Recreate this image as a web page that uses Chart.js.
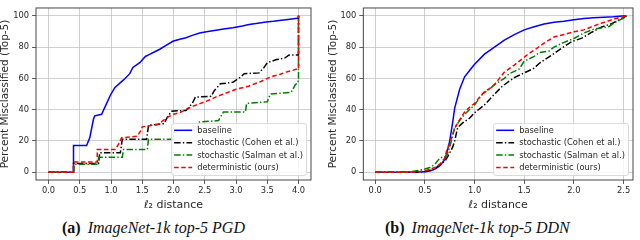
<!DOCTYPE html>
<html><head><meta charset="utf-8">
<script src="https://cdn.jsdelivr.net/npm/chart.js@4/dist/chart.umd.min.js"></script>
<style>
html,body{margin:0;padding:0;background:#fff;width:640px;height:240px;overflow:hidden;}
canvas{position:absolute;top:0;}
.cap{position:absolute;top:218px;font-family:"Liberation Serif","DejaVu Serif",serif;font-size:16px;line-height:20px;color:#111;white-space:nowrap;}
.cap b{font-weight:bold;font-style:normal;margin-right:7px;}
.cap i{font-style:italic;}
</style></head><body>
<canvas id="c1" width="320" height="215" style="left:0"></canvas>
<canvas id="c2" width="320" height="215" style="left:320px"></canvas>
<div class="cap" style="left:62px"><b>(a)</b><i>ImageNet-1k top-5 PGD</i></div>
<div class="cap" style="left:385px"><b>(b)</b><i>ImageNet-1k top-5 DDN</i></div>
<script>
// ---- labels ----
const seriesLabels = ["baseline", "stochastic (Cohen et al.)", "stochastic (Salman et al.)", "deterministic (ours)"];
const yTicks = [0, 20, 40, 60, 80, 100];
const xTicksPGD = [0, 0.5, 1.0, 1.5, 2.0, 2.5, 3.0, 3.5, 4.0];
const xTicksDDN = [0, 0.5, 1.0, 1.5, 2.0, 2.5];
const yTitle = "Percent Misclassified (Top-5)";
const xTitle = "\u2113\u2082 distance";

// ---- (a) PGD ----
const pgdBaselineX = [0, 0.4, 0.4, 0.61, 0.66, 0.72, 0.74, 0.85, 0.93, 1.0, 1.06, 1.2, 1.3, 1.35, 1.46, 1.55, 1.6, 1.7, 1.78, 1.9, 1.99, 2.1, 2.2, 2.3, 2.42, 2.55, 2.68, 2.8, 2.95, 3.1, 3.21, 3.35, 3.48, 3.6, 3.69, 3.8, 3.98, 4.0, 4.0];
const pgdBaselineY = [0, 0, 17, 17, 22, 34, 36, 37, 44, 50, 54, 59, 63, 67, 70, 74, 75, 77, 78.6, 81.5, 83.7, 85, 86, 87.5, 89, 90, 90.8, 91.5, 92.4, 93.5, 94.5, 95.3, 96, 96.5, 97, 97.5, 98.4, 98.5, 100];
const pgdCohenX = [0, 0.4, 0.4, 0.8, 0.82, 1.15, 1.18, 1.57, 1.6, 1.85, 1.9, 1.97, 2.2, 2.3, 2.35, 2.6, 2.65, 2.75, 2.95, 3.08, 3.13, 3.37, 3.45, 3.5, 3.65, 3.78, 3.85, 3.99, 4.0, 4.0];
const pgdCohenY = [0, 0, 5.5, 5.5, 12.5, 12.5, 21, 21, 30, 31, 35, 39, 39.5, 44, 48, 48.5, 52, 56.5, 57.5, 61, 63, 63.5, 67, 70, 72, 73, 75, 75, 75, 100];
const pgdSalmanX = [0, 0.4, 0.42, 0.8, 0.8, 1.18, 1.2, 1.58, 1.6, 1.99, 2.02, 2.38, 2.4, 2.72, 2.8, 3.15, 3.17, 3.5, 3.55, 3.88, 3.95, 3.99, 4.0, 4.0];
const pgdSalmanY = [0, 0, 5, 5, 9.5, 9.5, 14.5, 14.5, 21, 21, 26.5, 27, 32, 33, 38.5, 38.5, 44, 45, 50, 51, 56, 57, 60, 100];
const pgdOursX = [0, 0.4, 0.4, 0.78, 0.78, 1.07, 1.12, 1.17, 1.42, 1.47, 1.5, 1.75, 1.8, 1.9, 2.0, 2.1, 2.2, 2.3, 2.4, 2.5, 2.6, 2.7, 2.8, 2.9, 3.0, 3.1, 3.2, 3.3, 3.4, 3.5, 3.6, 3.7, 3.8, 3.9, 3.98, 4.0, 4.0];
const pgdOursY = [0, 0, 6.5, 6.5, 14.5, 14.5, 18, 22, 23, 26, 29, 30.5, 32, 35, 37, 38, 40, 42, 43.5, 45, 46.5, 48.5, 50, 51.5, 53, 54, 55, 56.5, 58, 60, 61.5, 62.5, 64, 65, 66, 66, 100];

// ---- (b) DDN ----
const ddnBaselineX = [0, 0.3, 0.5, 0.55, 0.6, 0.65, 0.7, 0.72, 0.75, 0.78, 0.8, 0.85, 0.9, 0.95, 1.0, 1.1, 1.2, 1.3, 1.4, 1.5, 1.6, 1.7, 1.8, 1.9, 2.0, 2.1, 2.2, 2.3, 2.4, 2.52];
const ddnBaselineY = [0, 0, 0.2, 0.7, 2, 4, 8, 12, 20, 32, 41, 53, 61, 65, 69, 75.5, 80, 84.5, 88, 91, 93, 94.7, 95.8, 96.5, 97.4, 98.2, 98.7, 99.1, 99.4, 100];
const ddnCohenX = [0, 0.45, 0.5, 0.6, 0.65, 0.7, 0.73, 0.78, 0.8, 0.83, 0.88, 0.95, 1.0, 1.1, 1.18, 1.28, 1.4, 1.5, 1.6, 1.65, 1.78, 1.88, 1.98, 2.08, 2.18, 2.28, 2.38, 2.47, 2.53];
const ddnCohenY = [0, 0, 0.5, 2, 5, 7, 10, 16, 20, 28.5, 31.5, 34.5, 38, 43, 48.5, 55, 60.5, 63.5, 66.5, 69.5, 75, 79.5, 83.5, 85.7, 89.5, 92.8, 95, 97.8, 100];
const ddnSalmanX = [0, 0.3, 0.4, 0.5, 0.55, 0.6, 0.65, 0.7, 0.72, 0.75, 0.8, 0.85, 0.9, 1.0, 1.08, 1.15, 1.2, 1.3, 1.35, 1.45, 1.5, 1.6, 1.65, 1.75, 1.8, 1.9, 2.0, 2.1, 2.2, 2.3, 2.35, 2.42, 2.5, 2.53];
const ddnSalmanY = [0, 0, 0.7, 2, 3, 5, 9, 10, 10.5, 16, 28.5, 33, 37, 43, 50, 53, 56, 60, 63, 66, 71, 74, 76.5, 77.5, 80, 83, 85.5, 89, 91.5, 92.5, 93, 96, 98.5, 100];
const ddnOursX = [0, 0.4, 0.5, 0.6, 0.65, 0.7, 0.72, 0.75, 0.78, 0.8, 0.83, 0.9, 0.95, 1.0, 1.05, 1.1, 1.15, 1.2, 1.25, 1.3, 1.4, 1.5, 1.55, 1.6, 1.7, 1.8, 1.9, 2.0, 2.1, 2.2, 2.3, 2.4, 2.48, 2.53];
const ddnOursY = [0, 0, 0.8, 3, 5, 9, 14, 18, 24.5, 28, 31.6, 38.5, 41.5, 44, 48, 51.5, 53.5, 56, 60, 64, 68.5, 73.5, 76, 78, 82.5, 86.5, 88, 89.8, 91, 93.5, 95.8, 97.8, 99.4, 100];

const pts = (xs, ys) => xs.map((x, i) => ({x: x, y: ys[i]}));

const styles = [
  {borderColor: '#0000ff', borderDash: [], order: 3},
  {borderColor: '#000000', borderDash: [6.5, 2.2, 1.4, 2.2], order: 2},
  {borderColor: '#008000', borderDash: [6.5, 2.2, 1.4, 2.2], order: 1},
  {borderColor: '#ff0000', borderDash: [4.5, 2.6], order: 0}
];

function makeDatasets(seriesList) {
  return seriesList.map((s, i) => ({
    label: seriesLabels[i],
    data: pts(s[0], s[1]),
    borderColor: styles[i].borderColor,
    borderDash: styles[i].borderDash,
    order: styles[i].order,
    borderWidth: 1.5,
    pointRadius: 0,
    fill: false,
    tension: 0
  }));
}

const textColor = '#2a2a2a';

const framePlugin = {
  id: 'frame',
  afterDatasetsDraw(chart) {
    const a = chart.chartArea, ctx = chart.ctx;
    ctx.save();
    ctx.strokeStyle = '#333';
    ctx.lineWidth = 0.9;
    ctx.strokeRect(a.left, a.top, a.right - a.left, a.bottom - a.top);
    ctx.restore();
  }
};

const boxLegend = {
  id: 'boxLegend',
  afterDraw(chart) {
    const ctx = chart.ctx, a = chart.chartArea;
    ctx.save();
    ctx.font = '8.3px "DejaVu Sans"';
    const ds = chart.data.datasets;
    let maxW = 0;
    ds.forEach(d => { maxW = Math.max(maxW, ctx.measureText(d.label).width); });
    const rowH = 12.4, textOff = 25.5;
    const w = textOff + maxW + 3.5, h = rowH * ds.length + 2.5;
    const x = a.right - 4.5 - w, y = a.bottom - 4.5 - h;
    ctx.beginPath();
    ctx.roundRect(x, y, w, h, 2.5);
    ctx.fillStyle = 'rgba(255,255,255,0.82)';
    ctx.fill();
    ctx.strokeStyle = '#d0d0d0';
    ctx.lineWidth = 0.8;
    ctx.stroke();
    ds.forEach((d, i) => {
      const cy = y + 6.9 + i * rowH;
      ctx.beginPath();
      ctx.setLineDash(d.borderDash || []);
      ctx.strokeStyle = d.borderColor;
      ctx.lineWidth = 1.5;
      ctx.moveTo(x + 2.5, cy);
      ctx.lineTo(x + 20.5, cy);
      ctx.stroke();
      ctx.setLineDash([]);
      ctx.fillStyle = textColor;
      ctx.textBaseline = 'middle';
      ctx.textAlign = 'left';
      ctx.fillText(d.label, x + textOff, cy + 0.5);
    });
    ctx.restore();
  }
};

function makeChart(id, datasets, xTicks, xmin, xmax, yAxisW, rightPad, yTitlePad) {
  return new Chart(document.getElementById(id), {
    type: 'line',
    data: {datasets: datasets},
    plugins: [framePlugin, boxLegend],
    options: {
      responsive: false,
      animation: false,
      devicePixelRatio: 1,
      layout: {padding: {left: 0, right: rightPad, top: 0.5, bottom: 0}},
      plugins: {legend: {display: false}, tooltip: {enabled: false}},
      scales: {
        x: {
          type: 'linear', min: xmin, max: xmax,
          afterBuildTicks: s => { s.ticks = xTicks.map(v => ({value: v})); },
          afterFit: s => { s.height = 35; },
          ticks: {
            callback: v => Number(v).toFixed(1),
            font: {family: 'DejaVu Sans', size: 8.3}, color: textColor,
            maxRotation: 0, autoSkip: false, padding: 1.5
          },
          grid: {color: '#c4c4c4', lineWidth: 0.8, drawTicks: true, tickLength: 4, tickColor: '#333', tickWidth: 0.8},
          border: {display: false},
          title: {display: true, text: xTitle, font: {family: 'DejaVu Sans', size: 11}, color: textColor, padding: {top: 0, bottom: 3.5}}
        },
        y: {
          type: 'linear', min: -5, max: 105,
          afterBuildTicks: s => { s.ticks = yTicks.map(v => ({value: v})); },
          afterFit: s => { s.width = yAxisW; },
          ticks: {font: {family: 'DejaVu Sans', size: 8.3}, color: textColor, padding: 3},
          grid: {color: '#c4c4c4', lineWidth: 0.8, drawTicks: true, tickLength: 4, tickColor: '#333', tickWidth: 0.8},
          border: {display: false},
          title: {display: true, text: yTitle, font: {family: 'DejaVu Sans', size: 10.5}, color: textColor, padding: {top: yTitlePad, bottom: 0}}
        }
      }
    }
  });
}

makeChart('c1', makeDatasets([[pgdBaselineX, pgdBaselineY], [pgdCohenX, pgdCohenY], [pgdSalmanX, pgdSalmanY], [pgdOursX, pgdOursY]]), xTicksPGD, -0.2, 4.2, 36, 9, -1.3);
makeChart('c2', makeDatasets([[ddnBaselineX, ddnBaselineY], [ddnCohenX, ddnCohenY], [ddnSalmanX, ddnSalmanY], [ddnOursX, ddnOursY]]), xTicksDDN, -0.12, 2.595, 43.3, 7, 6.7);
</script>
</body></html>
